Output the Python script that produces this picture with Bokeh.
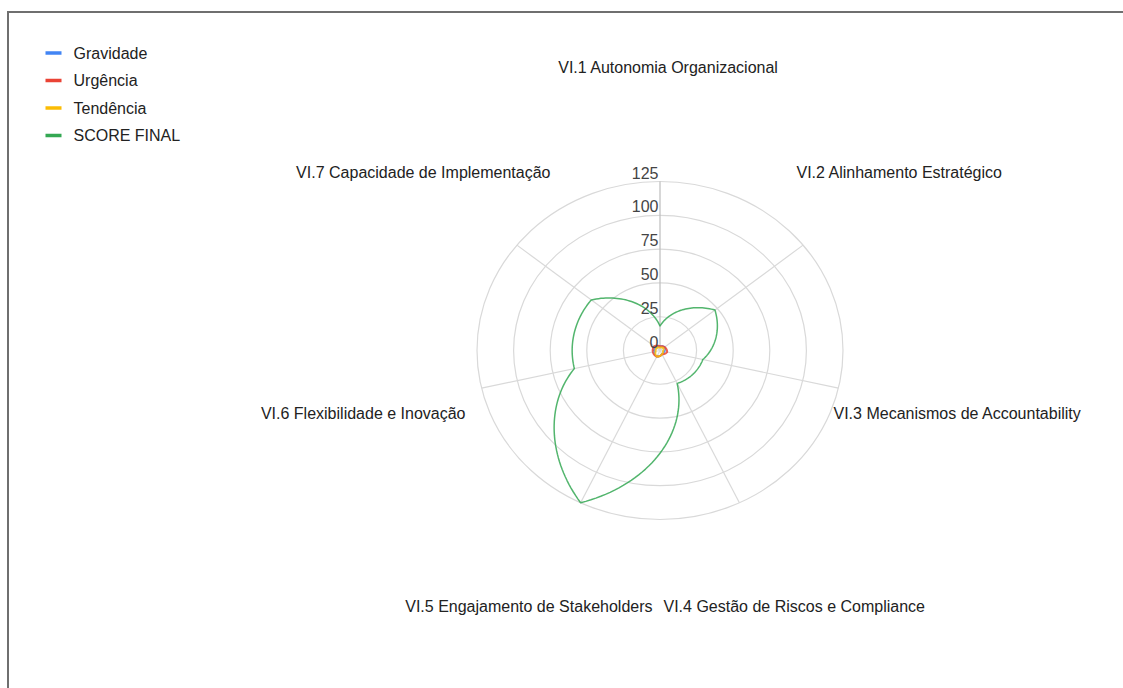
import numpy as np
from bokeh.plotting import figure
from bokeh.models import Range1d
from bokeh.core.properties import value
from bokeh.embed import file_html
from bokeh.resources import INLINE

# ---------------- data ----------------
categories = [
    "VI.1 Autonomia Organizacional",
    "VI.2 Alinhamento Estratégico",
    "VI.3 Mecanismos de Accountability",
    "VI.4 Gestão de Riscos e Compliance",
    "VI.5 Engajamento de Stakeholders",
    "VI.6 Flexibilidade e Inovação",
    "VI.7 Capacidade de Implementação",
]
gravidade = [3, 4, 3, 3, 5, 4, 4]
urgencia = [3, 4, 5, 3, 5, 5, 5]
tendencia = [2, 3, 2, 3, 5, 3, 3]
score_final = [18, 48, 30, 27, 125, 60, 60]
series_names = ["Gravidade", "Urgência", "Tendência", "SCORE FINAL"]
series_colors = ["#4285F4", "#EA4335", "#FBBC04", "#34A853"]
ring_ticks = [0, 25, 50, 75, 100, 125]

# ---------------- layout ----------------
W, H = 1123, 688
CX, CY = 659.5, 350.0          # radar centre in page pixels
RMAX = 125.0
SX, SY = 183.0 / RMAX, 169.0 / RMAX   # pixels per value unit (x / y)
FONT = "Liberation Sans"
FS = "16px"


def X(px):  # page pixel x -> data
    return (px - CX) / SX


def Y(py):  # page pixel y -> data
    return (CY - py) / SY


p = figure(width=W, height=H, output_backend="svg", toolbar_location=None,
           x_range=Range1d(-CX / SX, (W - CX) / SX),
           y_range=Range1d(-(H - CY) / SY, CY / SY),
           min_border=0, outline_line_color=None)
p.axis.visible = False
p.grid.visible = False
p.background_fill_color = "white"

# border (top & left edges of the cropped chart)
p.segment(x0=[X(6.5), X(7.5)], y0=[Y(11.5), Y(11.5)],
          x1=[X(W + 5), X(7.5)], y1=[Y(11.5), Y(H + 5)],
          line_color="#6f6f6f", line_width=2)

n = len(categories)
theta = [2 * np.pi * i / n for i in range(n)]

# rings
rings = [t for t in ring_ticks if t > 0]
p.ellipse(x=0, y=0, width=[2 * r for r in rings], height=[2 * r for r in rings],
          fill_color=None, line_color="#d9d9d9", line_width=1.2)

# spokes
p.segment(x0=[0] * n, y0=[0] * n,
          x1=[RMAX * np.sin(t) for t in theta], y1=[RMAX * np.cos(t) for t in theta],
          line_color=["#bdbdbd"] + ["#d9d9d9"] * (n - 1), line_width=1.2)


def polar_path(vals, steps=40):
    xs, ys = [], []
    for i in range(n):
        j = (i + 1) % n
        t = np.linspace(0, 1, steps, endpoint=False)
        th = theta[i] + t * (2 * np.pi / n)
        r = vals[i] + t * (vals[j] - vals[i])
        xs.extend(r * np.sin(th))
        ys.extend(r * np.cos(th))
    xs.append(xs[0])
    ys.append(ys[0])
    return xs, ys


for vals, col, lw in zip([gravidade, urgencia, tendencia, score_final], series_colors,
                         [2.0, 2.0, 2.0, 1.5]):
    xs, ys = polar_path(vals)
    p.line(xs, ys, line_color=col, line_width=lw, line_alpha=0.85)

# ring tick labels
p.text(x=[X(658)] * len(ring_ticks), y=ring_ticks,
       text=[str(t) for t in ring_ticks],
       y_offset=-9, text_align="right", text_baseline="middle",
       text_font=value(FONT), text_font_size=FS, text_color="#444444")

# category labels
cat_x = [X(668), X(796), X(833), X(663), X(652), X(465), X(550)]
cat_y = [Y(67), Y(172), Y(413), Y(606), Y(606), Y(413), Y(172)]
cat_align = ["center", "left", "left", "left", "right", "right", "right"]
p.text(x=cat_x, y=cat_y, text=categories, text_align=cat_align,
       text_baseline="middle", text_font=value(FONT), text_font_size=FS,
       text_color="#222222")

# legend
leg_y = [Y(52.5 + 27.5 * i) for i in range(len(series_names))]
p.segment(x0=[X(45)] * 4, y0=leg_y, x1=[X(61)] * 4, y1=leg_y,
          line_color=series_colors, line_width=3.5)
p.text(x=[X(73)] * 4, y=leg_y, text=series_names, text_align="left",
       text_baseline="middle", text_font=value(FONT), text_font_size=FS,
       text_color="#222222")

open("out.html", "w").write(file_html(p, INLINE))
